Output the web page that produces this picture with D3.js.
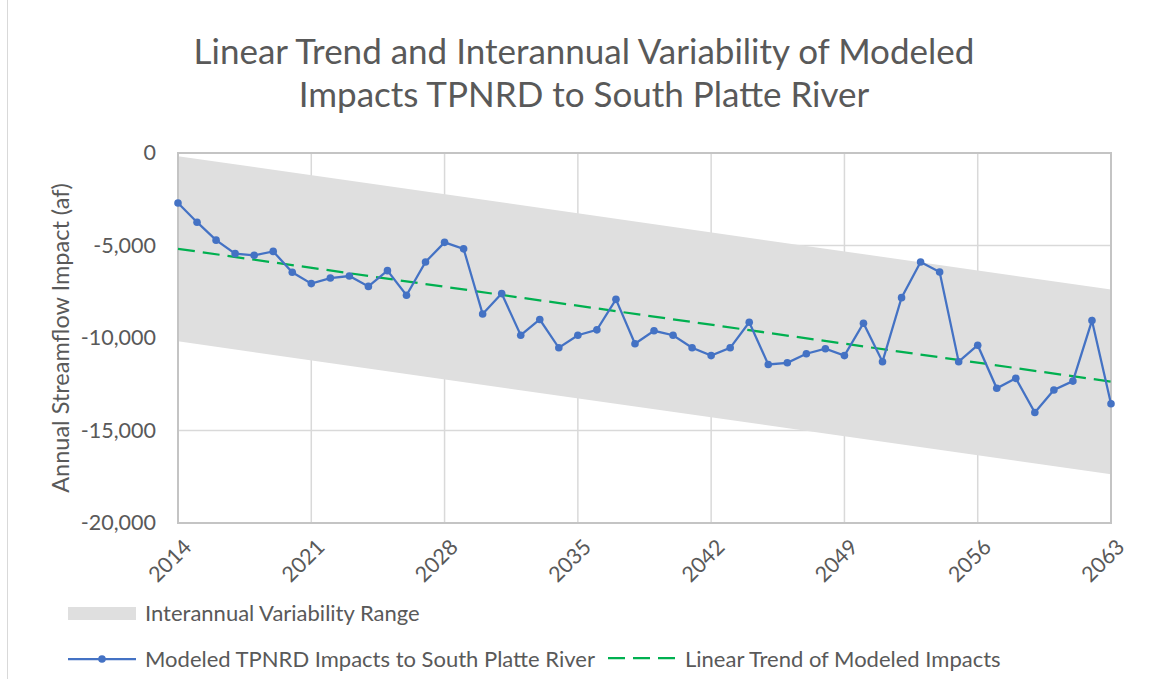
<!DOCTYPE html>
<html>
<head>
<meta charset="utf-8">
<script src="https://cdn.jsdelivr.net/npm/d3@7"></script>
<style>
  body { margin: 0; background: #fff; }
  text { font-family: Lato, "Open Sans", sans-serif; fill: #595959; }
</style>
</head>
<body>
<div id="chart"></div>
<script>
// years on the category axis
var years = d3.range(2014, 2064);
var tickYears = [2014, 2021, 2028, 2035, 2042, 2049, 2056, 2063];
var yTicks = [0, -5000, -10000, -15000, -20000];

// modeled TPNRD impacts to South Platte River (af)
var impacts = [-2700, -3740, -4710, -5440, -5530, -5320, -6450, -7060, -6760, -6650,
  -7210, -6360, -7690, -5890, -4830, -5180, -8700, -7600, -9850, -9000,
  -10530, -9850, -9560, -7910, -10310, -9610, -9850, -10530, -10950, -10530,
  -9150, -11430, -11340, -10850, -10580, -10950, -9200, -11280, -7820, -5890,
  -6430, -11280, -10390, -12720, -12180, -14030, -12810, -12330, -9060, -13550];

// linear trend (first year, last year)
var trendEnds = [-5180, -12360];
// interannual variability range edges (first year, last year)
var bandUpper = [-170, -7380];
var bandLower = [-10180, -17370];

var svgWidth = 1154;
var svgHeight = 679;

var margin = { top: 153, right: 43, bottom: 156, left: 178 };
var width = svgWidth - margin.left - margin.right;
var height = svgHeight - margin.top - margin.bottom;

var svg = d3.select("#chart")
  .append("svg")
  .attr("width", svgWidth)
  .attr("height", svgHeight);

// outer chart border
svg.append("line")
  .attr("x1", 7.5).attr("x2", 7.5)
  .attr("y1", 0).attr("y2", svgHeight)
  .attr("stroke", "#d9d9d9")
  .attr("stroke-width", 1);

var chartGroup = svg.append("g")
  .attr("transform", `translate(${margin.left}, ${margin.top})`);

var xScale = d3.scaleLinear()
  .domain([2014, 2063])
  .range([0, width]);

var yScale = d3.scaleLinear()
  .domain([-20000, 0])
  .range([height, 0]);

// gridlines
chartGroup.append("g")
  .selectAll("line")
  .data(yTicks.slice(1, -1))
  .enter()
  .append("line")
  .attr("x1", 0).attr("x2", width)
  .attr("y1", d => yScale(d)).attr("y2", d => yScale(d))
  .attr("stroke", "#d9d9d9")
  .attr("stroke-width", 1.5);

chartGroup.append("g")
  .selectAll("line")
  .data(tickYears.slice(1, -1))
  .enter()
  .append("line")
  .attr("x1", d => xScale(d)).attr("x2", d => xScale(d))
  .attr("y1", 0).attr("y2", height)
  .attr("stroke", "#d9d9d9")
  .attr("stroke-width", 1.5);

// variability band
var bandData = [0, 1].map(i => ({ year: i === 0 ? 2014 : 2063, lo: bandLower[i], hi: bandUpper[i] }));
var area = d3.area()
  .x(d => xScale(d.year))
  .y0(d => yScale(d.lo))
  .y1(d => yScale(d.hi));

chartGroup.append("path")
  .datum(bandData)
  .attr("d", area)
  .attr("fill", "#dfdfdf");

// plot border
chartGroup.append("rect")
  .attr("x", 0).attr("y", 0)
  .attr("width", width).attr("height", height)
  .attr("fill", "none")
  .attr("stroke", "#c4c4c4")
  .attr("stroke-width", 2);

// trend line
var trendData = [{ year: 2014, v: trendEnds[0] }, { year: 2063, v: trendEnds[1] }];
chartGroup.append("path")
  .datum(trendData)
  .attr("d", d3.line().x(d => xScale(d.year)).y(d => yScale(d.v)))
  .attr("fill", "none")
  .attr("stroke", "#00b050")
  .attr("stroke-width", 2.25)
  .attr("stroke-dasharray", "17,8");

// modeled impacts
var series = years.map((yr, i) => ({ year: yr, v: impacts[i] }));
chartGroup.append("path")
  .datum(series)
  .attr("d", d3.line().x(d => xScale(d.year)).y(d => yScale(d.v)))
  .attr("fill", "none")
  .attr("stroke", "#4472c4")
  .attr("stroke-width", 2.25);

chartGroup.selectAll("circle.pt")
  .data(series)
  .enter()
  .append("circle")
  .attr("class", "pt")
  .attr("cx", d => xScale(d.year))
  .attr("cy", d => yScale(d.v))
  .attr("r", 3.8)
  .attr("fill", "#4472c4");

// y axis
var leftAxis = d3.axisLeft(yScale)
  .tickValues(yTicks)
  .tickSize(0)
  .tickPadding(22)
  .tickFormat(d => d3.format(",")(d).replace("\u2212", "-"));

var yAxis = chartGroup.append("g").call(leftAxis);
yAxis.select(".domain").remove();
yAxis.selectAll("text")
  .style("font-size", "21.5px")
  .style("font-family", "Lato, sans-serif")
  .attr("fill", "#595959");

// x axis
var bottomAxis = d3.axisBottom(xScale)
  .tickValues(tickYears)
  .tickSize(0)
  .tickFormat(d3.format("d"));

var xAxis = chartGroup.append("g")
  .attr("transform", `translate(0, ${height})`)
  .call(bottomAxis);
xAxis.select(".domain").remove();
xAxis.selectAll("text")
  .style("font-size", "21.5px")
  .style("font-family", "Lato, sans-serif")
  .attr("fill", "#595959")
  .attr("text-anchor", "end")
  .attr("y", 0)
  .attr("dy", "0.35em")
  .attr("transform", "translate(9, 20) rotate(-45)");

// axis title
svg.append("text")
  .attr("transform", `translate(69, ${margin.top + height / 2}) rotate(-90)`)
  .attr("text-anchor", "middle")
  .style("font-size", "23.5px")
  .text("Annual Streamflow Impact (af)");

// chart title
var titleLines = ["Linear Trend and Interannual Variability of Modeled",
  "Impacts TPNRD to South Platte River"];
svg.append("g")
  .selectAll("text")
  .data(titleLines)
  .enter()
  .append("text")
  .attr("x", 584)
  .attr("y", (d, i) => 64 + i * 43)
  .attr("text-anchor", "middle")
  .style("font-size", "35px")
  .text(d => d);

// legend
var legend = svg.append("g");

legend.append("rect")
  .attr("x", 68).attr("y", 607)
  .attr("width", 68).attr("height", 13)
  .attr("fill", "#dfdfdf");
legend.append("text")
  .attr("x", 145).attr("y", 621)
  .style("font-size", "22px")
  .text("Interannual Variability Range");

legend.append("line")
  .attr("x1", 68).attr("x2", 136)
  .attr("y1", 659).attr("y2", 659)
  .attr("stroke", "#4472c4")
  .attr("stroke-width", 2.25);
legend.append("circle")
  .attr("cx", 102).attr("cy", 659)
  .attr("r", 3.8)
  .attr("fill", "#4472c4");
legend.append("text")
  .attr("x", 145).attr("y", 667)
  .style("font-size", "22px")
  .text("Modeled TPNRD Impacts to South Platte River");

legend.append("line")
  .attr("x1", 608).attr("x2", 677)
  .attr("y1", 658).attr("y2", 658)
  .attr("stroke", "#00b050")
  .attr("stroke-width", 2.25)
  .attr("stroke-dasharray", "17,8");
legend.append("text")
  .attr("x", 685).attr("y", 667)
  .style("font-size", "22px")
  .text("Linear Trend of Modeled Impacts");
</script>
</body>
</html>
